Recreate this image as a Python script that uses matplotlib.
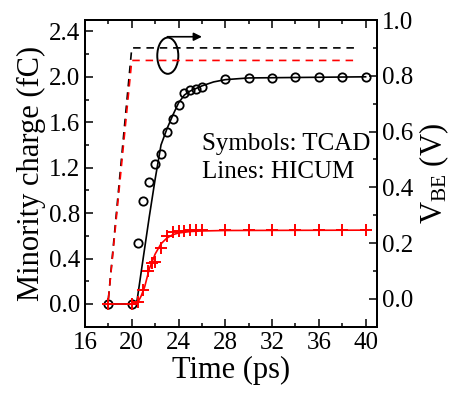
import matplotlib
matplotlib.use("Agg")
import matplotlib.pyplot as plt
from matplotlib.patches import Ellipse
from matplotlib.ticker import MultipleLocator

plt.rcParams['font.family'] = ['Liberation Serif', 'DejaVu Serif']
plt.rcParams['mathtext.fontset'] = 'custom'
plt.rcParams['mathtext.rm'] = 'Liberation Serif'
plt.rcParams['mathtext.it'] = 'Liberation Serif:italic'

# ---- data ----
# TCAD (symbols), minority charge (fC)
t_tcad_black = [18, 20, 20.5, 21, 21.5, 22, 22.5, 23, 23.5, 24, 24.5, 25, 25.5, 26,
                28, 30, 32, 34, 36, 38, 40]
q_tcad_black = [0, 0, 0.54, 0.91, 1.07, 1.235, 1.32, 1.51, 1.63, 1.75, 1.86, 1.88, 1.89, 1.91,
                1.98, 1.99, 1.99, 2.0, 2.0, 2.0, 2.0]
t_tcad_red = [18, 20, 20.5, 21, 21.4, 21.7, 22, 22.5, 23, 23.5, 24, 24.5, 25, 25.5, 26,
              28, 30, 32, 34, 36, 38, 40]
q_tcad_red = [0, 0, 0.02, 0.12, 0.29, 0.36, 0.37, 0.49, 0.60, 0.63, 0.64, 0.645, 0.648, 0.65, 0.65,
              0.65, 0.65, 0.65, 0.65, 0.65, 0.65, 0.65]
# HICUM (lines)
t_hicum_black = [18, 20.3, 20.45, 21, 21.5, 22, 22.5, 23, 23.5, 24, 24.5, 25, 26, 27, 28, 30, 40]
q_hicum_black = [0, 0, 0.03, 0.42, 0.77, 1.10, 1.40, 1.54, 1.66, 1.77, 1.84, 1.875, 1.92, 1.955,
                 1.975, 1.99, 2.0]
t_hicum_red = [18, 20.3, 20.5, 20.8, 21.1, 21.5, 22, 22.5, 23, 23.5, 24, 25, 26, 28, 40]
q_hicum_red = [0, 0, 0.01, 0.07, 0.15, 0.31, 0.44, 0.53, 0.58, 0.61, 0.625, 0.638, 0.643, 0.647, 0.65]
# V_BE (right axis)
t_vbe = [18, 20, 39]
vbe_black = [0, 0.90, 0.90]
vbe_red = [0, 0.855, 0.855]

fig = plt.figure(figsize=(4.51, 3.94), dpi=100)
ax = fig.add_axes([0.1885, 0.1708, 0.6481, 0.7784])
ax2 = ax.twinx()

dash = (0, (4.5, 3.5))
ax2.plot(t_vbe, vbe_black, color='black', lw=1.2, linestyle=dash, zorder=1)
ax2.plot(t_vbe, vbe_red, color='red', lw=1.2, linestyle=dash, zorder=2)

ax.set_zorder(ax2.get_zorder() + 1)
ax.patch.set_visible(False)

ax.plot(t_hicum_black, q_hicum_black, color='black', lw=1.2)
ax.plot(t_hicum_red, q_hicum_red, color='red', lw=1.2)
ax.plot(t_tcad_black, q_tcad_black, linestyle='none', marker='o', ms=6, mfc='none',
        mec='black', mew=1.3)
ax.plot(t_tcad_red, q_tcad_red, linestyle='none', marker='+', ms=8, mec='red', mew=1.4)

ax.set_xlim(16, 41)
ax.set_ylim(-0.2, 2.5)
ax2.set_ylim(-0.1, 1.0)

ax.xaxis.set_major_locator(MultipleLocator(4))
ax.xaxis.set_minor_locator(MultipleLocator(2))
ax.yaxis.set_major_locator(MultipleLocator(0.4))
ax.yaxis.set_minor_locator(MultipleLocator(0.2))
ax2.yaxis.set_major_locator(MultipleLocator(0.2))
ax2.yaxis.set_minor_locator(MultipleLocator(0.1))
ax.yaxis.set_major_formatter(plt.FuncFormatter(lambda v, p: f"{v:.1f}"))
ax2.yaxis.set_major_formatter(plt.FuncFormatter(lambda v, p: f"{v:.1f}"))

ax.tick_params(which='both', direction='in', top=True, right=False, labelsize=18, width=1.1)
ax.tick_params(which='major', length=5.5)
ax.tick_params(which='minor', length=3)
ax2.tick_params(which='both', direction='in', labelsize=18, width=1.1)
ax2.tick_params(which='major', length=5.5)
ax2.tick_params(which='minor', length=3)
for a in (ax, ax2):
    for s in a.spines.values():
        s.set_linewidth(1.4)

ax.set_xlabel('Time (ps)', fontsize=22, labelpad=2)
ax.set_ylabel('Minority charge (fC)', fontsize=22, labelpad=2)
ax2.set_ylabel(r'V$_{\mathrm{BE}}$ (V)', fontsize=22, labelpad=3)

ax.text(0.399, 0.576, 'Symbols: TCAD', transform=ax.transAxes, fontsize=18, va='baseline')
ax.text(0.399, 0.484, 'Lines: HICUM', transform=ax.transAxes, fontsize=18, va='baseline')

ell = Ellipse((23.08, 0.872), 1.8, 0.13, fill=False, lw=1.4, color='black')
ax2.add_patch(ell)
ax2.annotate('', xy=(26.0, 0.94), xytext=(23.05, 0.94),
             arrowprops=dict(arrowstyle='-|>', lw=1.2, color='black', mutation_scale=12,
                             shrinkA=0, shrinkB=0))

fig.savefig('out.png', dpi=100)
